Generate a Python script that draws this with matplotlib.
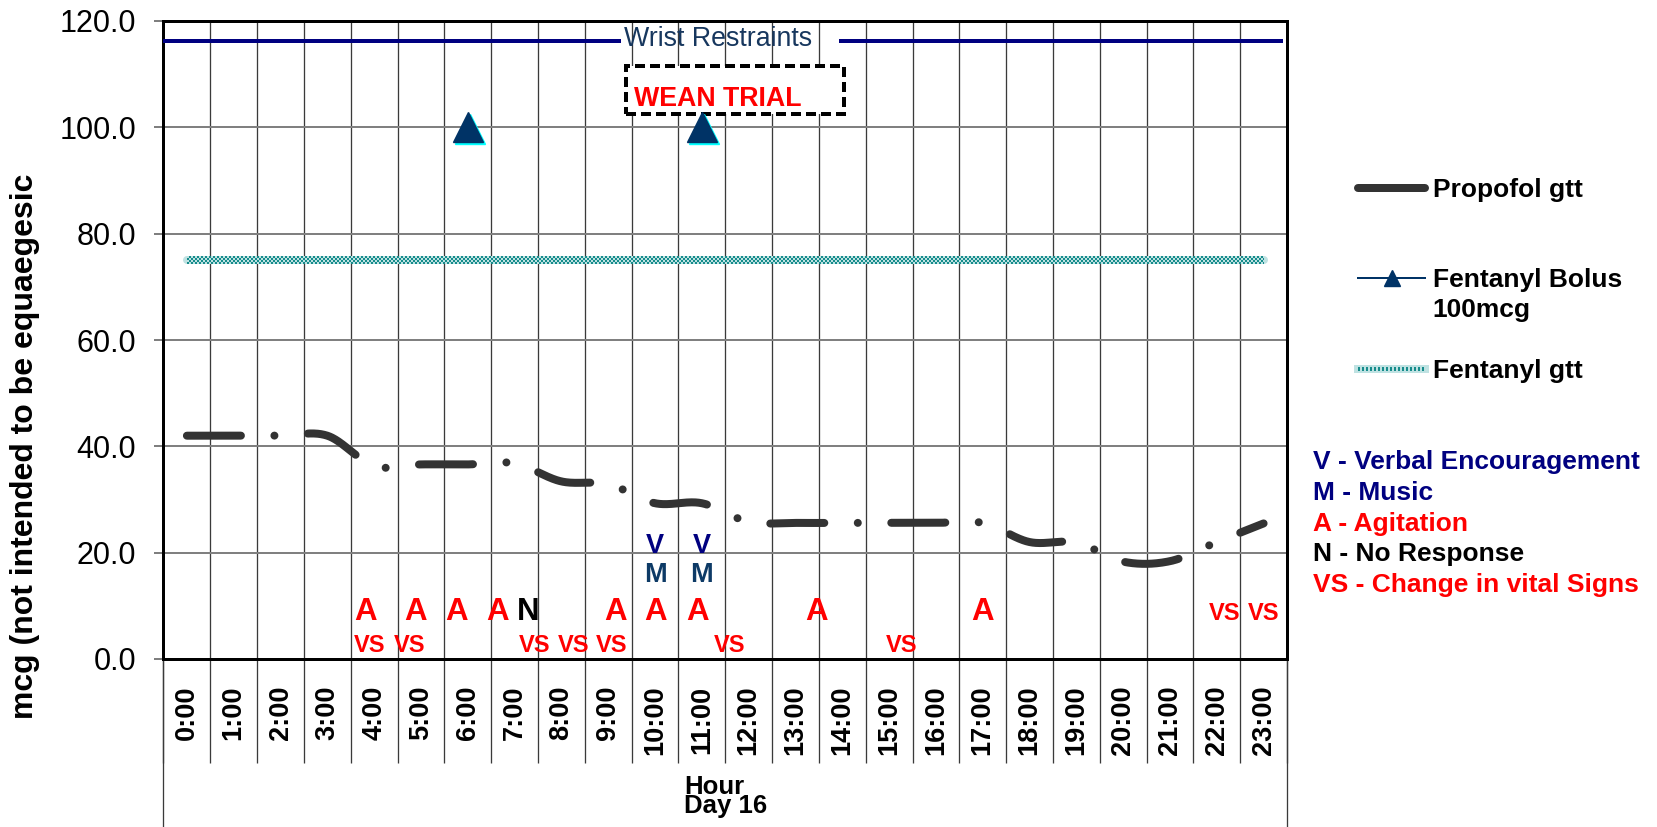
import numpy as np
import matplotlib
matplotlib.use('Agg')
import matplotlib.pyplot as plt
from matplotlib.transforms import ScaledTranslation
from matplotlib.patches import Rectangle
from matplotlib.lines import Line2D
from matplotlib.ticker import FormatStrFormatter
from matplotlib.legend_handler import HandlerTuple

plt.rcParams['font.family'] = ['Liberation Sans', 'DejaVu Sans']
plt.rcParams['lines.scale_dashes'] = False

# ---------------- data ----------------
hour_labels = ['0:00', '1:00', '2:00', '3:00', '4:00', '5:00', '6:00', '7:00',
               '8:00', '9:00', '10:00', '11:00', '12:00', '13:00', '14:00', '15:00',
               '16:00', '17:00', '18:00', '19:00', '20:00', '21:00', '22:00', '23:00']
propofol_gtt = [42.0, 42.0, 42.0, 42.0, 36.3, 36.6, 36.6, 36.8, 33.4, 32.9, 29.3, 29.3,
                25.8, 25.6, 25.6, 25.6, 25.6, 25.6, 22.0, 21.9, 18.3, 18.4, 22.0, 25.5]
fentanyl_bolus = [np.nan] * 6 + [100.0] + [np.nan] * 4 + [100.0] + [np.nan] * 12
fentanyl_gtt = [75.0] * 24
restraint_level = 116.2
restraint_segments = [(-0.5, 9.28), (13.93, 23.42)]
restraint_label = 'Wrist Restraints'
wean_box = (9.37, 102.6, 14.03, 111.5)     # x0, y0, x1, y1
wean_label = 'WEAN TRIAL'

# event annotations (hour positions)
ann_A = [3.82, 4.89, 5.77, 6.63, 9.15, 10.02, 10.90, 13.46, 17.0]
ann_N = [7.30]
ann_VS_low = [3.90, 4.75, 7.43, 8.25, 9.08, 11.60, 15.27]
ann_VS_high = [22.16, 22.99]
ann_V = [10.0, 10.99]
ann_M = [10.0, 10.99]

key_lines = [('V - Verbal Encouragement', '#000080'),
             ('M - Music', '#000080'),
             ('A - Agitation', '#FF0000'),
             ('N - No Response', '#000000'),
             ('VS - Change in vital Signs', '#FF0000')]

# ---------------- figure ----------------
W, H = 1658, 827
fig = plt.figure(figsize=(W / 100, H / 100), dpi=100)
L, R, T, B = 163.5, 1287, 21, 659
ax = fig.add_axes([L / W, 1 - B / H, (R - L) / W, (B - T) / H])
px = 0.72  # points per pixel

x = np.arange(len(hour_labels))
ax.set_xlim(-0.5, len(hour_labels) - 0.5)
ax.set_ylim(0, 120)

# grid
ax.set_axisbelow(True)
ax.set_yticks(np.arange(0, 121, 20))
ax.yaxis.set_major_formatter(FormatStrFormatter('%.1f'))
ax.set_xticks(x)
ax.set_xticklabels(hour_labels)
ax.set_xticks(np.arange(-0.5, len(hour_labels), 1), minor=True)
ax.grid(which='major', axis='y', color='#808080', lw=2 * px)
ax.grid(which='minor', axis='x', color='#3a3a3a', lw=1.3 * px)
ax.grid(which='major', axis='x', visible=False)

for s in ax.spines.values():
    s.set_linewidth(3 * px)
    s.set_color('black')

ax.tick_params(axis='y', which='major', length=9.5 * px, width=1.5 * px, color='#555555',
               pad=13, labelsize=22)
ax.tick_params(axis='x', which='major', length=0, pad=19, labelsize=19.5, rotation=90)
for lab in ax.get_xticklabels():
    lab.set_fontweight('bold')
ax.tick_params(axis='x', which='minor', length=104 * px, width=1.3 * px, color='#3a3a3a')

# outer category frame lines below the axis
for xa in (0, 1):
    ax.plot([xa, xa], [0, -(H - B) / (B - T)], transform=ax.transAxes, clip_on=False,
            color='#3a3a3a', lw=1.3 * px)

# ---- Propofol gtt: smoothed (Catmull-Rom / Bezier) dash-dot line ----
p = np.array(propofol_gtt)
n = len(p)
tang = np.zeros(n)
tang[1:-1] = (p[2:] - p[:-2]) / 2
tang[0] = p[1] - p[0]
tang[-1] = p[-1] - p[-2]
xs, ys = [], []
t = np.linspace(0, 1, 60)
for i in range(n - 1):
    c1 = p[i] + tang[i] / 3
    c2 = p[i + 1] - tang[i + 1] / 3
    yy = (1 - t) ** 3 * p[i] + 3 * (1 - t) ** 2 * t * c1 + 3 * (1 - t) * t ** 2 * c2 + t ** 3 * p[i + 1]
    xx = i + t
    if i > 0:
        xx, yy = xx[1:], yy[1:]
    xs.append(xx)
    ys.append(yy)
xs = np.concatenate(xs)
ys = np.concatenate(ys)
prop_line, = ax.plot(xs, ys, color='#333333', lw=8 * px,
                     ls=(0, (54 * px, 33.5 * px, 0.01, 33.5 * px)),
                     dash_capstyle='round', solid_capstyle='round', zorder=4)

# ---- Fentanyl gtt: textured band ----
gtt_base, = ax.plot(x, fentanyl_gtt, color='#bfe2e2', lw=8 * px, solid_capstyle='round', zorder=3)
for k, dy in enumerate([-3, -1, 1, 3]):
    tr = ax.transData + ScaledTranslation(0, dy / 100, fig.dpi_scale_trans)
    ax.plot(x, fentanyl_gtt, color='#178c8c', lw=2 * px,
            ls=((2 * px) * (k % 2), (2 * px, 2 * px)), dash_capstyle='butt',
            transform=tr, zorder=3.1)

# ---- Fentanyl bolus ----
shadow_tr = ax.transData + ScaledTranslation(2 / 100, -1.5 / 100, fig.dpi_scale_trans)
ax.plot(x, fentanyl_bolus, marker='^', ms=22, color='#00FFFF', ls='none',
        transform=shadow_tr, zorder=5)
ax.plot(x, fentanyl_bolus, marker='^', ms=22, color='#003366', lw=2 * px, zorder=6)

# ---- Wrist restraints ----
for (a, b) in restraint_segments:
    ax.plot([a, b], [restraint_level, restraint_level], color='#000080', lw=4 * px,
            solid_capstyle='butt', zorder=4, clip_on=False)
ax.text(9.34, 115.35, restraint_label, color='#17375E', fontsize=19.3,
        ha='left', va='baseline', zorder=5)

# ---- Wean trial box ----
x0, y0, x1, y1 = wean_box
ax.add_patch(Rectangle((x0, y0), x1 - x0, y1 - y0, facecolor='white', edgecolor='black',
                       lw=4 * px, ls=(0, (10 * px, 5 * px)), zorder=4))
ax.text(9.55, 104.1, wean_label, color='#FF0000', fontsize=19.3, fontweight='bold',
        ha='left', va='baseline', zorder=5)

# ---- event letters ----
def put(xs_, txt, yb, col, size):
    for xv in xs_:
        ax.text(xv, yb, txt, color=col, fontsize=size, fontweight='bold',
                ha='center', va='baseline', zorder=7)

put(ann_A, 'A', 7.33, '#FF0000', 22.5)
put(ann_N, 'N', 7.33, '#000000', 22.5)
put(ann_VS_low, 'VS', 1.37, '#FF0000', 17)
put(ann_VS_high, 'VS', 7.33, '#FF0000', 17)
put(ann_V, 'V', 19.87, '#000080', 19.5)
put(ann_M, 'M', 14.4, '#0D3A66', 19.5)

# ---- axis titles ----
ax.set_ylabel('mcg (not intended to be equaegesic', fontsize=23, fontweight='bold')
ax.yaxis.set_label_coords((25 - L) / (R - L), (B - 446.5) / (B - T))
ax.yaxis.label.set_va('center')
fig.text(684 / W, 1 - 813 / H, 'Hour\nDay 16', fontsize=18.5, fontweight='bold',
         ha='left', va='baseline', multialignment='left', linespacing=0.74)

# ---- legend ----
h_prop = Line2D([], [], color='#333333', lw=8 * px, solid_capstyle='round')
h_bolus = Line2D([], [], color='#003366', lw=2 * px, marker='^', ms=12)
h_gtt_a = Line2D([], [], color='#bfe2e2', lw=8 * px)
h_gtt_b = Line2D([], [], color='#178c8c', lw=4 * px, ls=(0, (2 * px, 2 * px)))
leg = fig.legend([h_prop, h_bolus, (h_gtt_a, h_gtt_b)],
                 ['Propofol gtt', 'Fentanyl Bolus', 'Fentanyl gtt'],
                 handler_map={tuple: HandlerTuple(ndivide=1)},
                 loc='upper left', bbox_to_anchor=(1358 / W, 1 - 178 / H),
                 frameon=False, borderpad=0, borderaxespad=0, handlelength=2.55,
                 handletextpad=0.3, labelspacing=2.52,
                 prop={'weight': 'bold', 'size': 19})
fig.text(1432.7 / W, 1 - 310 / H, '100mcg', fontsize=19, fontweight='bold', ha='left', va='center')

key_y = [461.7, 493, 524, 554, 585]
for (txt, col), yy in zip(key_lines, key_y):
    fig.text(1313 / W, 1 - yy / H, txt, color=col, fontsize=19, fontweight='bold',
             ha='left', va='center')

fig.savefig('out.png', dpi=100)
